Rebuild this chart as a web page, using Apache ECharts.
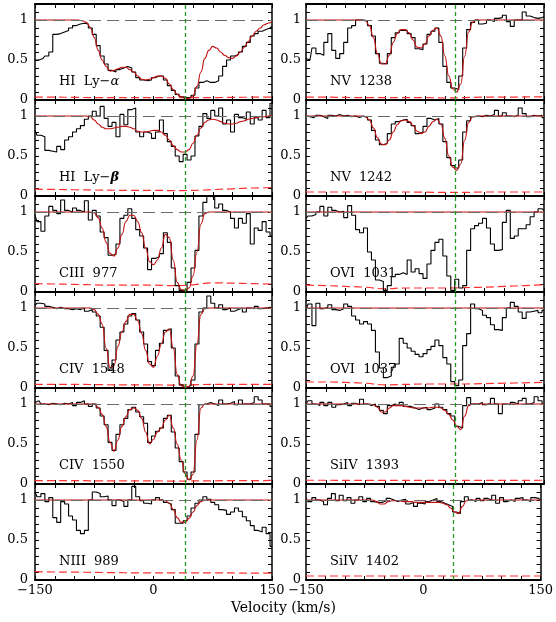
<!DOCTYPE html>
<html><head><meta charset="utf-8">
<script src="https://cdn.jsdelivr.net/npm/echarts/dist/echarts.min.js"></script>
<style>html,body{margin:0;padding:0;background:#fff}#c{width:556px;height:622px}</style>
</head><body><div id="c"></div>
<script>
// ---------- data ----------
const VEL = [-150,-145,-140,-135,-130,-125,-120,-115,-110,-105,-100,-95,-90,-85,-80,-75,-70,-65,-60,-55,-50,-45,-40,-35,-30,-25,-20,-15,-10,-5,0,5,10,15,20,25,30,35,40,45,50,55,60,65,70,75,80,85,90,95,100,105,110,115,120,125,130,135,140,145,150];
const ERR_VEL = [-150,-125,-100,-75,-50,-25,0,25,50,75,100,125,150];
const X_TICK_VALUES = [-150,0,150];
const X_TICK_LABELS = ['\u2212150','0','150'];
const Y_TICK_VALUES = [0,0.5,1];
const Y_TICK_LABELS = ['0','0.5','1'];
const REF_VEL_LEFT = 40;
const REF_VEL_RIGHT = 38;
const AXIS_TITLE = 'Velocity (km/s)';

const LEFT_LABELS = ['HI  Ly\u2212{a|\u03b1}','HI  Ly\u2212{b|\u03b2}','CIII  977','CIV  1548','CIV  1550','NIII  989'];
const RIGHT_LABELS = ['NV  1238','NV  1242','OVI  1031','OVI  1037','SiIV  1393','SiIV  1402'];

const hiLyaFlux = [0.5,0.5,0.52,0.55,0.6,0.82,0.83,0.85,0.87,0.9, 0.93,0.95,0.96,0.95,0.9,0.82,0.68,0.55,0.45,0.37, 0.35,0.38,0.4,0.42,0.4,0.35,0.28,0.25,0.24,0.25, 0.28,0.3,0.3,0.25,0.18,0.12,0.07,0.04,0.03,0.03, 0.06,0.15,0.22,0.24,0.22,0.22,0.24,0.3,0.42,0.5, 0.55,0.57,0.6,0.67,0.72,0.8,0.83,0.86,0.88,0.9, 0.92];
const hiLyaModel = [1,1,1,1,1,1,1,1,1,1, 1,1,0.99,0.97,0.91,0.78,0.62,0.5,0.42,0.36, 0.37,0.39,0.41,0.41,0.38,0.35,0.3,0.26,0.25,0.26, 0.28,0.3,0.3,0.27,0.2,0.13,0.07,0.04,0.02,0.02, 0.05,0.17,0.35,0.52,0.62,0.67,0.65,0.6,0.56,0.53, 0.52,0.55,0.6,0.66,0.73,0.8,0.86,0.9,0.94,0.96, 0.98];
const hiLyaErr = [0.035,0.035,0.033,0.03,0.03,0.03,0.03,0.028,0.03,0.03,0.033,0.035,0.037];

const hiLybFlux = [0.82,0.76,0.74,0.57,0.56,0.55,0.62,0.58,0.7,0.74, 0.8,0.84,0.88,0.96,1.0,1.06,1.0,1.12,0.97,0.87, 0.92,0.74,1.02,0.89,1.08,1.1,0.8,0.74,0.8,0.78, 0.72,0.8,0.95,0.78,0.68,0.62,0.5,0.43,0.52,0.45, 0.5,0.75,0.87,1.03,0.97,1.07,1.0,1.1,0.9,0.95, 0.8,1.02,0.98,0.96,1.05,0.9,0.98,0.95,1.07,0.98, 1.16];
const hiLybModel = [1,1,1,1,1,1,1,1,1,1, 1,1,1,1,0.99,0.95,0.9,0.86,0.84,0.84, 0.85,0.86,0.87,0.87,0.86,0.84,0.81,0.8,0.8,0.81, 0.82,0.82,0.8,0.76,0.7,0.63,0.58,0.55,0.55,0.58, 0.66,0.76,0.85,0.92,0.95,0.96,0.95,0.93,0.91,0.9, 0.9,0.91,0.93,0.94,0.96,0.97,0.98,0.99,0.99,1.0, 1.0];
const hiLybErr = [0.085,0.082,0.078,0.075,0.072,0.07,0.07,0.068,0.07,0.08,0.09,0.1,0.105];

const ciiiFlux = [0.96,0.88,0.76,0.95,1.07,1.02,0.98,1.15,1.02,1.0, 1.05,1.02,1.0,1.14,0.9,1.02,0.95,0.75,0.68,0.46, 0.47,0.6,0.92,0.96,1.04,0.92,0.78,0.7,0.55,0.28, 0.42,0.44,0.48,0.74,0.62,0.3,0.08,0.02,0.02,0.12, 0.3,0.52,0.95,1.12,1.2,1.18,1.05,1.1,1.02,1.0, 0.92,0.8,0.92,0.86,0.98,0.6,0.8,0.77,0.88,0.75, 0.7];
const ciiiModel = [1,1,1,1,1,1,1,1,1,1, 1,1,1,1,1,0.99,0.93,0.8,0.62,0.48, 0.45,0.55,0.72,0.88,0.96,0.96,0.88,0.74,0.55,0.38, 0.34,0.4,0.55,0.72,0.68,0.4,0.12,0.03,0.02,0.05, 0.2,0.5,0.85,0.98,1,1,1,1,1,1, 1,1,1,1,1,1,1,1,1,1, 1];
const ciiiErr = [0.105,0.1,0.095,0.09,0.085,0.085,0.085,0.08,0.09,0.115,0.11,0.105,0.1];

const civ1548Flux = [1.03,1.06,1.05,1.02,1.01,0.99,1.01,0.99,0.99,0.98, 0.99,0.98,1.0,0.96,0.98,0.95,0.9,0.76,0.47,0.22, 0.35,0.6,0.7,0.8,0.9,0.93,0.85,0.7,0.55,0.33, 0.28,0.47,0.56,0.72,0.74,0.5,0.15,0.04,0.01,0.03, 0.1,0.55,0.95,1.0,1.15,1.06,1.0,1.04,0.98,1.0, 0.96,0.98,1.0,0.95,1.0,0.99,1.02,0.99,1.0,1.01, 1.0];
const civ1548Model = [1,1,1,1,1,1,1,1,1,1, 1,1,1,1,1,0.98,0.92,0.8,0.5,0.25, 0.28,0.52,0.7,0.83,0.92,0.92,0.84,0.68,0.47,0.3, 0.26,0.4,0.55,0.7,0.74,0.5,0.17,0.03,0.01,0.02, 0.15,0.55,0.92,0.99,1,1,1,1,1,1, 1,1,1,1,1,1,1,1,1,1, 1];
const civ1548Err = [0.045,0.045,0.045,0.043,0.04,0.04,0.04,0.035,0.04,0.045,0.045,0.045,0.045];

const civ1550Flux = [1.02,1.04,1.0,0.99,1.01,1.0,0.99,1.01,1.0,1.02, 0.98,1.02,1.04,1.0,0.97,1.0,0.95,0.85,0.74,0.52, 0.42,0.62,0.74,0.82,0.93,0.96,0.9,0.84,0.76,0.52, 0.6,0.66,0.7,0.82,0.86,0.65,0.45,0.28,0.15,0.06, 0.15,0.62,0.99,1.0,1.02,1.0,0.98,1.05,1.0,1.01, 1.03,0.99,1.05,1.0,1.0,1.02,1.09,1.05,1.0,1.0, 0.97];
const civ1550Model = [1,1,1,1,1,1,1,1,1,1, 1,1,1,1,1,1,0.96,0.87,0.72,0.52, 0.41,0.55,0.72,0.84,0.93,0.95,0.92,0.82,0.65,0.5, 0.56,0.65,0.7,0.8,0.86,0.7,0.5,0.3,0.13,0.05, 0.12,0.55,0.95,1,1,1,1,1,1,1, 1,1,1,1,1,1,1,1,1,1, 1];
const civ1550Err = [0.042,0.042,0.042,0.04,0.04,0.04,0.04,0.035,0.038,0.04,0.042,0.042,0.045];

const niiiFlux = [1.1,1.04,1.08,0.98,1.03,0.78,0.72,0.98,0.95,0.8, 0.75,0.62,0.58,0.62,1.0,1.1,1.08,1.04,1.05,1.0, 0.93,1.0,0.98,0.92,1.0,1.17,1.04,0.99,0.96,0.95, 1.0,1.03,1.0,0.97,0.95,0.88,0.71,0.71,0.74,0.8, 0.9,0.96,1.0,1.04,1.01,0.97,0.94,0.88,0.87,0.82, 0.85,0.9,0.86,0.79,0.74,0.68,0.62,0.6,0.66,0.58, 0.42];
const niiiModel = [1,1,1,1,1,1,1,1,1,1, 1,1,1,1,1,1,1,1,1,1, 1,1,1,1,1,1,1,1,1,1, 1,1,1,0.99,0.96,0.88,0.78,0.72,0.72,0.77, 0.85,0.93,0.98,1,1,1,1,1,1,1, 1,1,1,1,1,1,1,1,1,1, 1];
const niiiErr = [0.105,0.1,0.098,0.095,0.092,0.09,0.09,0.09,0.09,0.09,0.088,0.085,0.085];

const nv1238Flux = [0.52,0.5,0.65,0.58,0.56,0.72,0.83,0.62,0.52,0.58, 0.72,0.9,0.93,1.0,1.0,0.99,0.93,0.8,0.58,0.46, 0.45,0.58,0.78,0.84,0.87,0.87,0.83,0.78,0.64,0.63, 0.7,0.82,0.86,0.9,0.72,0.42,0.22,0.15,0.13,0.3, 0.65,0.88,0.97,1.0,0.95,0.96,1.0,0.98,1.02,1.03, 1.06,0.98,0.92,1.0,1.0,1.1,1.05,1.03,1.02,1.03, 1.04];
const nv1238Model = [1,1,1,1,1,1,1,1,1,1, 1,1,1,1,1,0.99,0.93,0.78,0.58,0.45, 0.45,0.56,0.72,0.83,0.88,0.88,0.84,0.75,0.66,0.65, 0.7,0.8,0.87,0.9,0.8,0.55,0.3,0.14,0.1,0.2, 0.55,0.85,0.97,1,1,1,1,1,1,1, 1,1,1,1,1,1,1,1,1,1, 1];
const nv1238Err = [0.035,0.035,0.032,0.03,0.03,0.03,0.03,0.025,0.03,0.035,0.035,0.038,0.04];

const nv1242Flux = [1.0,0.99,0.98,1.01,0.99,0.97,1.01,1.0,1.02,1.0, 1.01,0.99,1.0,0.98,1.0,0.98,0.95,0.82,0.7,0.64, 0.66,0.78,0.9,0.93,0.95,0.96,0.92,0.88,0.78,0.8, 0.87,0.97,0.95,0.97,0.9,0.68,0.48,0.38,0.35,0.45, 0.8,0.94,0.99,1.0,0.99,1.01,1.0,1.02,1.07,1.0, 1.04,1.0,0.99,1.01,1.1,1.03,0.99,1.01,1.0,1.01, 0.98];
const nv1242Model = [1,1,1,1,1,1,1,1,1,1, 1,1,1,1,1,0.99,0.95,0.85,0.73,0.65, 0.64,0.7,0.8,0.89,0.94,0.95,0.93,0.88,0.81,0.78, 0.8,0.87,0.93,0.96,0.9,0.72,0.5,0.36,0.32,0.4, 0.7,0.92,0.99,1,1,1,1,1,1,1, 1,1,1,1,1,1,1,1,1,1, 1];
const nv1242Err = [0.05,0.05,0.05,0.05,0.05,0.05,0.048,0.045,0.045,0.05,0.05,0.05,0.05];

const ovi1031Flux = [0.92,0.95,0.97,1.0,1.07,0.95,1.06,1.02,1.0,1.01, 0.93,1.08,0.96,0.78,0.74,0.8,0.5,0.4,0.15,0.13, 0.02,0.08,0.19,0.22,0.24,0.22,0.4,0.25,0.29,0.23, 0.17,0.35,0.52,0.62,0.66,0.45,0.2,0.02,0.16,0.05, 0.08,0.52,0.79,0.83,0.86,0.92,0.8,0.6,0.52,0.53, 0.87,1.02,0.67,0.7,0.79,0.79,0.84,0.94,1.0,1.04, 1.02];
const ovi1031Model = [1,1,1,1,1,1,1,1,1,1, 1,1,1,1,1,1,1,1,1,1, 1,1,1,1,1,1,1,1,1,1, 1,1,1,1,1,1,1,1,1,1, 1,1,1,1,1,1,1,1,1,1, 1,1,1,1,1,1,1,1,1,1, 1];
const ovi1031Err = [0.085,0.08,0.07,0.06,0.04,0.05,0.05,0.05,0.055,0.06,0.07,0.08,0.09];

const ovi1037Flux = [0.97,1.05,0.78,1.06,0.99,1.01,1.04,0.98,0.97,0.99, 1.05,1.02,0.9,0.85,0.8,0.83,0.8,0.72,0.45,0.25, 0.13,0.15,0.26,0.3,0.62,0.56,0.5,0.46,0.42,0.39, 0.43,0.48,0.52,0.6,0.53,0.38,0.3,0.08,0.03,0.1, 0.53,0.68,1.05,0.99,0.97,0.91,0.88,0.79,0.73,0.72, 0.88,1.0,1.07,1.02,0.95,0.87,0.95,0.96,0.97,0.94, 0.97];
const ovi1037Model = [1,1,1,1,1,1,1,1,1,1, 1,1,1,1,1,1,1,1,1,1, 1,1,1,1,1,1,1,1,1,1, 1,1,1,1,1,1,1,1,1,1, 1,1,1,1,1,1,1,1,1,1, 1,1,1,1,1,1,1,1,1,1, 1];
const ovi1037Err = [0.075,0.075,0.07,0.06,0.04,0.045,0.05,0.05,0.05,0.055,0.06,0.065,0.07];

const si1393Flux = [1.0,1.04,1.0,0.98,1.02,0.98,1.02,0.96,0.99,1.0, 1.02,0.98,1.01,0.99,1.06,1.0,0.98,1.0,0.97,0.92, 0.88,0.98,1.0,0.98,1.02,0.97,0.97,0.95,0.93,0.95, 0.96,0.93,0.95,1.0,0.96,0.93,0.88,0.85,0.72,0.7, 0.98,1.08,1.0,1.0,1.02,0.99,1.01,1.07,1.0,0.88, 1.0,0.99,1.02,1.0,1.04,1.07,1.0,1.02,1.09,1.04, 1.0];
const si1393Model = [1,1,1,1,1,1,1,1,1,1, 1,1,1,1,1,1,1,0.99,0.96,0.9, 0.9,0.95,0.98,0.98,0.98,0.97,0.96,0.95,0.95,0.95, 0.95,0.95,0.96,0.96,0.95,0.92,0.87,0.8,0.72,0.68, 0.85,0.98,1,1,1,1,1,1,1,1, 1,1,1,1,1,1,1,1,1,1, 1];
const si1393Err = [0.047,0.047,0.046,0.046,0.045,0.045,0.045,0.045,0.045,0.045,0.046,0.046,0.047];

const si1402Flux = [1.02,0.98,1.03,1.0,0.98,0.94,1.02,1.08,0.99,1.06, 0.99,1.03,0.96,1.0,1.04,0.98,1.02,0.98,0.97,0.97, 0.99,1.02,1.0,0.98,1.0,1.01,0.95,0.97,0.92,0.96, 0.95,0.98,1.0,1.02,0.98,0.96,0.94,0.92,0.85,0.83, 0.98,1.04,1.0,0.98,1.02,0.99,1.02,1.0,1.06,0.96, 1.03,0.98,1.0,0.98,1.02,1.03,1.0,0.98,1.03,1.02, 1.0];
const si1402Model = [1,1,1,1,1,1,1,1,1,1, 1,1,1,1,1,1,1,1,0.98,0.95, 0.95,0.98,0.99,0.99,0.99,0.98,0.98,0.98,0.97,0.97, 0.97,0.97,0.97,0.97,0.97,0.96,0.94,0.9,0.85,0.83, 0.92,0.99,1,1,1,1,1,1,1,1, 1,1,1,1,1,1,1,1,1,1, 1];
const si1402Err = [0.05,0.05,0.05,0.05,0.05,0.05,0.05,0.05,0.05,0.05,0.05,0.05,0.05];

const LEFT_PANELS = [
  [hiLyaFlux, hiLyaModel, hiLyaErr],
  [hiLybFlux, hiLybModel, hiLybErr],
  [ciiiFlux, ciiiModel, ciiiErr],
  [civ1548Flux, civ1548Model, civ1548Err],
  [civ1550Flux, civ1550Model, civ1550Err],
  [niiiFlux, niiiModel, niiiErr]
];
const RIGHT_PANELS = [
  [nv1238Flux, nv1238Model, nv1238Err],
  [nv1242Flux, nv1242Model, nv1242Err],
  [ovi1031Flux, ovi1031Model, ovi1031Err],
  [ovi1037Flux, ovi1037Model, ovi1037Err],
  [si1393Flux, si1393Model, si1393Err],
  [si1402Flux, si1402Model, si1402Err]
];

// ---------- layout ----------
const FONT = 'DejaVu Serif';
const COLS = [
  {left: 35, width: 237, ref: REF_VEL_LEFT, panels: LEFT_PANELS, labels: LEFT_LABELS, labelMargin: 7},
  {left: 306, width: 238, ref: REF_VEL_RIGHT, panels: RIGHT_PANELS, labels: RIGHT_LABELS, labelMargin: 5}
];
const TOPS = [4, 100, 196, 292, 388, 484];
const PANEL_H = 96;

const grids = [], xAxes = [], yAxes = [], series = [], titles = [];
let gi = 0;
function xLabel(v) {
  for (let k = 0; k < X_TICK_VALUES.length; k++) if (Math.abs(v - X_TICK_VALUES[k]) < 1e-6) return X_TICK_LABELS[k];
  return '';
}
function yLabel(v) {
  for (let k = 0; k < Y_TICK_VALUES.length; k++) if (Math.abs(v - Y_TICK_VALUES[k]) < 1e-6) return Y_TICK_LABELS[k];
  return '';
}
COLS.forEach((col) => {
  col.panels.forEach((p, row) => {
    const isBottom = row === TOPS.length - 1;
    grids.push({left: col.left, top: TOPS[row], width: col.width, height: PANEL_H, containLabel: false});
    const xBase = {gridIndex: gi, type: 'value', min: -150, max: 150, interval: 25,
      splitLine: {show: false},
      axisLine: {show: true, onZero: false, lineStyle: {color: '#000', width: 2}},
      axisTick: {show: true, inside: true, length: 4, lineStyle: {color: '#000', width: 1}}};
    xAxes.push(Object.assign({}, xBase, {position: 'bottom',
      axisLabel: {show: isBottom, formatter: xLabel, margin: 4, color: '#000', fontFamily: FONT, fontSize: 13,
        showMinLabel: true, showMaxLabel: true, hideOverlap: false}}));
    xAxes.push(Object.assign({}, xBase, {position: 'top', axisLabel: {show: false}}));
    const yBase = {gridIndex: gi, type: 'value', min: 0, max: 1.2, interval: 0.1,
      splitLine: {show: false},
      axisLine: {show: true, onZero: false, lineStyle: {color: '#000', width: 1.5}},
      axisTick: {show: true, inside: true, length: 4, lineStyle: {color: '#000', width: 1}}};
    yAxes.push(Object.assign({}, yBase, {position: 'left',
      axisLabel: {show: true, formatter: yLabel, margin: col.labelMargin, color: '#000', fontFamily: FONT, fontSize: 13,
        showMinLabel: true, showMaxLabel: true}}));
    yAxes.push(Object.assign({}, yBase, {position: 'right', axisLabel: {show: false}}));
    const xi = 2 * gi, yi = 2 * gi;
    // error spectrum + continuum reference line
    series.push({type: 'line', xAxisIndex: xi, yAxisIndex: yi, z: 2, silent: true, symbol: 'none', smooth: true,
      data: ERR_VEL.map((v, k) => [v, p[2][k]]),
      lineStyle: {color: '#ff3030', width: 1.2, type: [8, 4]},
      markLine: {silent: true, symbol: ['none', 'none'], label: {show: false}, animation: false,
        lineStyle: {color: '#6a6a6a', width: 1.2, type: [12, 6]}, data: [{yAxis: 1}]}});
    // observed flux histogram
    series.push({type: 'line', xAxisIndex: xi, yAxisIndex: yi, z: 3, silent: true, symbol: 'none', step: 'middle',
      data: VEL.map((v, k) => [v, p[0][k]]),
      lineStyle: {color: '#000', width: 1.1}});
    // model fit + reference velocity
    series.push({type: 'line', xAxisIndex: xi, yAxisIndex: yi, z: 4, silent: true, symbol: 'none', smooth: true, smoothMonotone: 'x',
      data: VEL.map((v, k) => [v, p[1][k]]),
      lineStyle: {color: '#c01010', width: 1.1},
      markLine: {silent: true, symbol: ['none', 'none'], label: {show: false}, animation: false,
        lineStyle: {color: '#1e9a1e', width: 1.3, type: [4, 3]}, data: [{xAxis: col.ref}]}});
    titles.push({text: col.labels[row], left: col.left + 24, top: TOPS[row] + 71, padding: 0,
      textStyle: {fontFamily: FONT, fontSize: 13, fontWeight: 'normal', color: '#000',
        rich: {a: {fontFamily: FONT, fontSize: 13, fontStyle: 'italic', color: '#000'},
               b: {fontFamily: FONT, fontSize: 13, fontStyle: 'italic', fontWeight: 'bold', color: '#000'}}}});
    gi++;
  });
});
titles.push({text: AXIS_TITLE, left: 231, top: 601, padding: 0,
  textStyle: {fontFamily: FONT, fontSize: 14, fontWeight: 'normal', color: '#000'}});

const chart = echarts.init(document.getElementById('c'), null, {renderer: 'canvas'});
chart.setOption({
  animation: false,
  backgroundColor: '#fff',
  title: titles,
  grid: grids,
  xAxis: xAxes,
  yAxis: yAxes,
  series: series
});
</script></body></html>
